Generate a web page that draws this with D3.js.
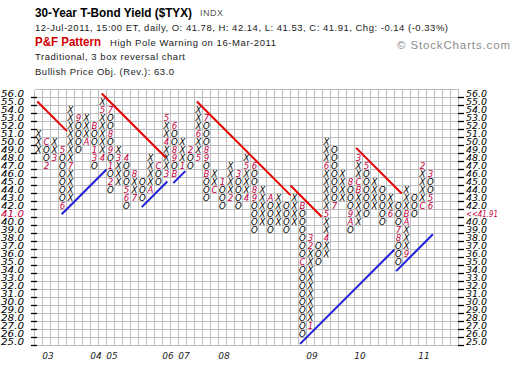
<!DOCTYPE html>
<html><head><meta charset="utf-8">
<script src="https://cdn.jsdelivr.net/npm/d3@7/dist/d3.min.js"></script>
<style>body{margin:0;background:#fff}svg{display:block}</style>
</head><body>
<svg id="c" width="520" height="370"></svg>
<script>
// Point & Figure columns (box size 1.0, 3 box reversal)
const colTypes = ["X","O","X","O","X","O","X","O","X","O","X","O","X","O","X","O","X","O","X","O","X","O","X","O","X","O","X","O","X","O","X","O","X","O","X","O","X","O","X","O","X","O","X","O","X","O","X","O","X","O"];
const colLows  = [49,47,48,42,43,49,50,47,48,44,45,42,43,43,44,45,46,46,47,47,48,43,44,42,43,42,43,39,40,39,40,39,40,26,27,35,36,42,43,39,40,41,42,40,41,35,36,41,42,42];
const colHighs = [51,50,50,49,54,53,53,52,55,54,49,48,46,45,48,47,53,52,50,49,54,53,46,45,47,46,48,47,44,43,43,42,43,42,38,37,50,49,46,45,48,47,45,44,43,42,44,43,47,46];

// month markers: column, price box, label
const monthCols   = [1,1,2,3,3,4,5,6,7,7,7,8,8,9,9,9,9,9,10,11,11,11,12,12,14,15,16,16,16,17,17,17,17,18,19,20,20,21,21,21,21,22,23,24,25,26,26,27,27,27,29,33,33,34,34,34,36,36,36,37,39,39,39,40,40,40,41,44,45,45,46,46,46,48,48,49,49,49];
const monthPrices = [50,47,48,49,42,47,53,50,52,49,48,48,54,54,51,49,47,45,48,48,44,43,43,46,44,47,46,50,53,52,49,48,46,47,49,48,51,53,49,48,46,44,45,43,46,43,47,47,44,43,43,42,35,27,37,38,38,41,47,42,45,41,40,44,45,48,47,41,39,38,36,40,41,42,47,46,43,42];
const monthLabels = ["C","2","3","5","6","7","9","A","B","1","3","4","5","7","8","9","1","2","3","4","5","6","7","8","A","C","3","4","5","6","8","9","B","1","2","5","6","7","8","9","B","C","1","2","3","4","5","6","8","9","A","B","C","1","2","3","4","5","6","7","8","9","A","B","C","3","5","6","7","8","9","A","B","C","2","3","5","6"];

// trend lines (column, price) endpoints
const redLines = [
  [[-0.15,55.0],[3.55,51.3]],
  [[7.9,56.0],[15.9,48.0]],
  [[19.8,55.0],[31.5,43.3]],
  [[31.5,44.5],[35.4,40.6]],
  [[39.7,49.2],[45.4,43.5]]
];
const blueLines = [
  [[2.9,40.9],[8.5,46.5]],
  [[12.9,41.8],[16.1,45.0]],
  [[16.85,44.8],[18.35,46.3]],
  [[32.7,24.7],[44.5,36.5]],
  [[44.7,33.8],[49.3,38.4]]
];

const priceTicks = d3.range(25, 57);
const yearLabels = ["03","04","05","06","07","08","09","10","11"];
const yearCols   = [1,7,9,16,18,23,34,40,48];
const lastPrice = 41.91;
const lastRow = 41;

const monthColor = "#c4003f";
const svg = d3.select("#c");
const x = d3.scaleLinear().domain([-0.5, 52.5]).range([34.5, 458.5]);
const y = d3.scaleLinear().domain([24.5, 56.5]).range([345.5, 89.5]);

// grid
const g = svg.append("g").attr("shape-rendering","crispEdges");
g.selectAll("line.v").data(d3.range(-0.5, 53, 1)).join("line")
  .attr("x1", d=>x(d)).attr("x2", d=>x(d)).attr("y1", y(24.5)).attr("y2", y(56.5))
  .attr("stroke","#bdbdbd").attr("stroke-width",1);
g.selectAll("line.h").data(d3.range(24.5, 57, 1)).join("line")
  .attr("y1", d=>y(d)).attr("y2", d=>y(d)).attr("x1", x(-0.5)).attr("x2", x(52.5))
  .attr("stroke","#bdbdbd").attr("stroke-width",1);

// axis ticks and labels
const ax = svg.append("g");
ax.selectAll("line.lt").data(priceTicks).join("line")
  .attr("x1",31).attr("x2",37).attr("y1",d=>y(d)+4).attr("y2",d=>y(d)+4)
  .attr("stroke","#000").attr("stroke-width",1.3);
ax.selectAll("line.rt").data(priceTicks).join("line")
  .attr("x1",458).attr("x2",464).attr("y1",d=>y(d)+4).attr("y2",d=>y(d)+4)
  .attr("stroke","#000").attr("stroke-width",1.3);
const lblFont = "DejaVu Sans, Verdana, sans-serif";
ax.selectAll("text.ll").data(priceTicks).join("text")
  .attr("x",1).attr("y",d=>y(d)).attr("dy","0.35em")
  .attr("font-family",lblFont).attr("font-style","italic").attr("font-size",8.8)
  .attr("textLength",23).attr("lengthAdjust","spacingAndGlyphs")
  .attr("fill",d=>d===lastRow?monthColor:"#000")
  .text(d=>d.toFixed(1));
ax.selectAll("text.rl").data(priceTicks.filter(d=>d!==lastRow)).join("text")
  .attr("x",466).attr("y",d=>y(d)).attr("dy","0.35em")
  .attr("font-family",lblFont).attr("font-style","italic").attr("font-size",8.8)
  .attr("textLength",21).attr("lengthAdjust","spacingAndGlyphs")
  .attr("fill","#000").text(d=>d.toFixed(1));
ax.append("text").attr("x",466).attr("y",y(lastRow)).attr("dy","0.35em")
  .attr("font-family",lblFont).attr("font-style","italic").attr("font-size",8.8)
  .attr("fill",monthColor).attr("textLength",32).attr("lengthAdjust","spacingAndGlyphs")
  .text("<<" + lastPrice.toFixed(2));

ax.selectAll("text.yr").data(yearLabels).join("text")
  .attr("x",(d,i)=>x(yearCols[i])+1.5).attr("y",359).attr("text-anchor","middle")
  .attr("font-family",lblFont).attr("font-style","italic").attr("font-size",9)
  .attr("fill","#222").text(d=>d);

// boxes
const monthKey = new Map(monthCols.map((c,i)=>[c+"_"+monthPrices[i], monthLabels[i]]));
const cells = [];
colTypes.forEach((t,c)=>{
  for(let v=colLows[c]; v<=colHighs[c]; v++){
    const k = c+"_"+v;
    cells.push({c, v, t: monthKey.has(k)? monthKey.get(k) : t, m: monthKey.has(k)});
  }
});
svg.append("g").selectAll("text").data(cells).join("text")
  .attr("x",d=>x(d.c)).attr("y",d=>y(d.v)).attr("dy","0.36em").attr("text-anchor","middle")
  .attr("font-family",lblFont).attr("font-style","italic").attr("font-size",8.6)
  .attr("fill",d=>d.m?monthColor:"#000").text(d=>d.t);

// trend lines
const line = d3.line().x(d=>x(d[0])).y(d=>y(d[1]));
svg.append("g").selectAll("path.r").data(redLines).join("path")
  .attr("d",line).attr("stroke","#e60000").attr("stroke-width",2).attr("fill","none");
svg.append("g").selectAll("path.b").data(blueLines).join("path")
  .attr("d",line).attr("stroke","#1f1fd6").attr("stroke-width",2).attr("fill","none");

// header
const hf = "Liberation Sans, Arial, sans-serif";
const hdr = svg.append("g").attr("font-family",hf);
hdr.append("text").attr("x",35).attr("y",16.5).attr("font-size",12.5).attr("font-weight","bold")
  .attr("textLength",157).attr("lengthAdjust","spacingAndGlyphs").attr("fill","#000")
  .text("30-Year T-Bond Yield ($TYX)");
hdr.append("text").attr("x",200).attr("y",16).attr("font-size",9).attr("fill","#555")
  .attr("textLength",23).text("INDX");
hdr.append("text").attr("x",35).attr("y",30.5).attr("font-size",9.5).attr("fill","#222")
  .attr("textLength",413).attr("lengthAdjust","spacing")
  .text("12-Jul-2011, 15:00 ET, daily, O: 41.78, H: 42.14, L: 41.53, C: 41.91, Chg: -0.14 (-0.33%)");
hdr.append("text").attr("x",35).attr("y",46).attr("font-size",12.5).attr("font-weight","bold")
  .attr("fill","#d00000").attr("textLength",66).attr("lengthAdjust","spacingAndGlyphs").text("P&F Pattern");
hdr.append("text").attr("x",110).attr("y",45.5).attr("font-size",9.5).attr("fill","#222")
  .attr("textLength",166).attr("lengthAdjust","spacing").text("High Pole Warning on 16-Mar-2011");
hdr.append("text").attr("x",35).attr("y",60).attr("font-size",9.5).attr("fill","#222")
  .attr("textLength",150).attr("lengthAdjust","spacing").text("Traditional, 3 box reversal chart");
hdr.append("text").attr("x",35).attr("y",75).attr("font-size",9.5).attr("fill","#222")
  .attr("textLength",139).attr("lengthAdjust","spacing").text("Bullish Price Obj. (Rev.): 63.0");
hdr.append("text").attr("x",397).attr("y",48.5).attr("font-size",11.5).attr("fill","#8c8c8c")
  .attr("textLength",113).attr("lengthAdjust","spacing").text("© StockCharts.com");
</script>
</body></html>
